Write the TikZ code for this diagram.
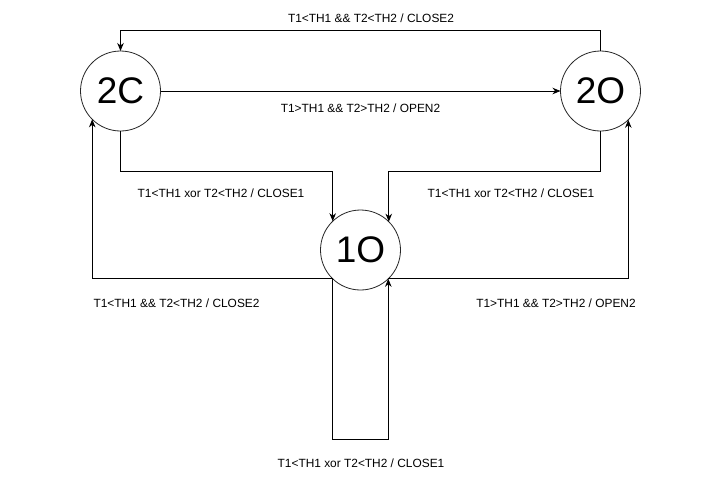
\documentclass[tikz,border=0pt]{standalone}
\usepackage{fontspec}
\setmainfont{Liberation Sans}
\usetikzlibrary{arrows.meta}
\begin{document}
\begin{tikzpicture}[x=1pt,y=-1pt,
  state/.style={circle,draw=black!85,line width=0.8pt,minimum size=80pt,inner sep=0pt,outer sep=0pt,font=\fontsize{37}{40}\selectfont},
  edge/.style={line width=0.9pt,-{Stealth[length=8pt,width=6.5pt,inset=2.5pt]}},
  lbl/.style={font=\fontsize{11.9}{14}\selectfont,inner sep=0pt}]
\useasboundingbox (0,0) rectangle (701,491);
\fill[white] (0,0) rectangle (701,491);
\node[state] (c2) at (120.5,91) {2C};
\node[state] (o2) at (600.5,91) {2O};
\node[state] (o1) at (360.5,250) {1O};
% edges
\draw[edge] (o2.north) -- ++(0,-21) -| (c2.north);
\draw[edge] (c2.east) -- (o2.west);
\draw[edge] (c2.south) -- ++(0,40) -| (o1.134.4);
\draw[edge] (o2.south) -- ++(0,40) -| (o1.45.6);
\draw[edge] (o1.225.6) -| (c2.225.6);
\draw[edge] (o1.314.4) -| (o2.314.4);
\draw[edge] (o1.225.6) -- ++(0,161) -| (o1.314.4);
% labels
\node[lbl] (l1) at (371,18) {T1<TH1 \&\& T2<TH2 / CLOSE2};
\node[lbl] (l2) at (360.5,108) {T1>TH1 \&\& T2>TH2 / OPEN2};
\node[lbl] (l3) at (221,193) {T1<TH1 xor T2<TH2 / CLOSE1};
\node[lbl] (l4) at (511,193) {T1<TH1 xor T2<TH2 / CLOSE1};
\node[lbl] (l5) at (176.5,303) {T1<TH1 \&\& T2<TH2 / CLOSE2};
\node[lbl] (l6) at (556,303) {T1>TH1 \&\& T2>TH2 / OPEN2};
\node[lbl] (l7) at (361,463) {T1<TH1 xor T2<TH2 / CLOSE1};
\end{tikzpicture}
\end{document}
